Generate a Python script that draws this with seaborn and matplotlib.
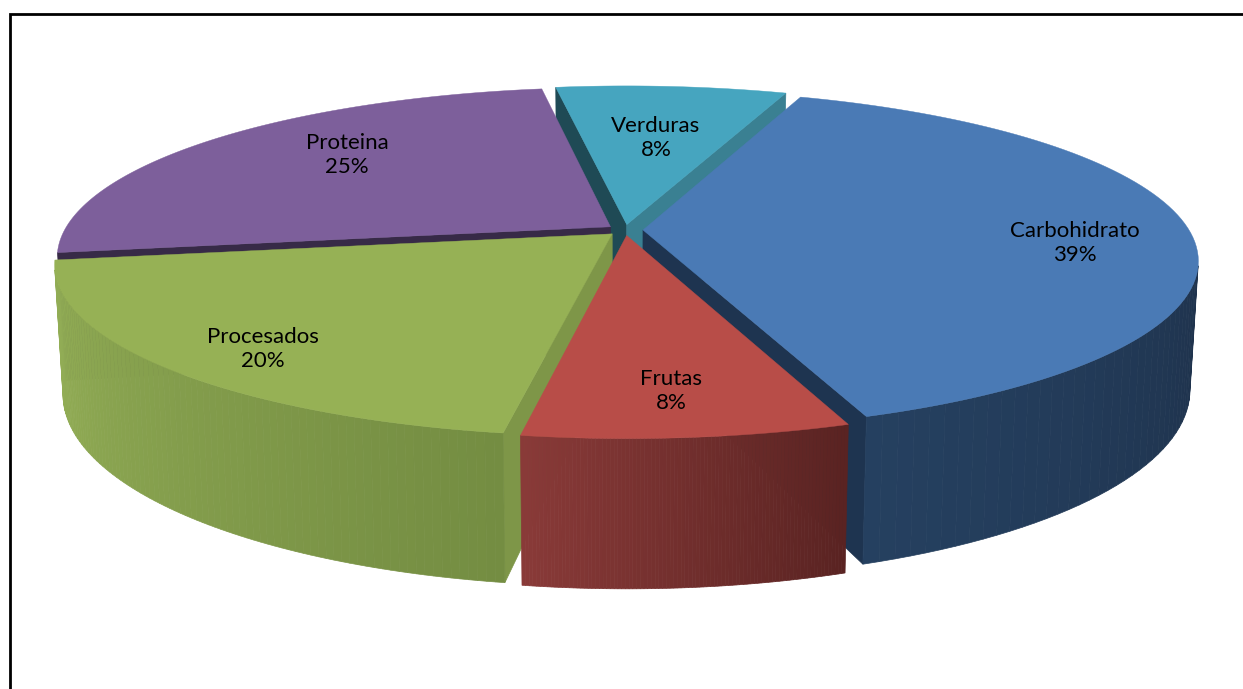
import numpy as np
import seaborn as sns
from matplotlib import pyplot as plt

names = ['Carbohidrato', 'Frutas', 'Procesados', 'Proteina', 'Verduras']
values = [39, 8, 20, 25, 8]

top_colors = ['#4a7ab5', '#b84d48', '#96b155', '#7d5f9b', '#46a5bf']
wall_light = ['#254060', '#893a38', '#93ae56', '#5a4672', '#3a8092']
wall_dark = ['#1f334d', '#5a2322', '#748d42', '#372a47', '#2a6070']
cut_colors = ['#1e3450', '#5a2322', '#7e9648', '#372a47', '#1f4a55']
label_pos = [(1075, 243), (671, 391), (263, 349), (347, 155), (656, 138)]
draw_order = [4, 3, 0, 2, 1]

START = 20
EXPLODE = 0.033
CX, CY = 625, 230
RX, RY = 546, 165
PERSP = 0.177
DROP = 125
RX_LOSS = 8
RY_GAIN = 20


def project(u, v, z):
    s = 1 / (1 - PERSP * v)
    x = CX + (RX - z * RX_LOSS) * u * s
    y = CY + z * DROP + (RY + z * RY_GAIN) * v * s
    return x, y


def area(pts):
    p = np.array(pts)
    return 0.5 * np.sum(p[:, 0] * np.roll(p[:, 1], -1) - np.roll(p[:, 0], -1) * p[:, 1])


def draw_slice(ax, i, a0, a1):
    mid = np.radians((a0 + a1) / 2)
    ou, ov = EXPLODE * np.sin(mid), -EXPLODE * np.cos(mid)
    angles = np.radians(np.linspace(a0, a1, 90))
    us = ou + np.sin(angles)
    vs = ov - np.cos(angles)

    # straight cut faces, only the ones turned to the viewer
    for k, sign in ((0, 1), (-1, -1)):
        quad = [project(ou, ov, 0), project(us[k], vs[k], 0),
                project(us[k], vs[k], 1), project(ou, ov, 1)]
        if area(quad) * sign < 0:
            color = cut_colors[i]
            if i == 4 and k == -1:
                color = wall_light[4]
            ax.fill(*zip(*quad), color=color, lw=0.5)

    # outer wall
    quads = []
    for k in range(len(us) - 1):
        quad = [project(us[k], vs[k], 0), project(us[k + 1], vs[k + 1], 0),
                project(us[k + 1], vs[k + 1], 1), project(us[k], vs[k], 1)]
        if area(quad) < 0:
            quads.append(quad)
    if quads:
        quads.sort(key=lambda q: q[0][0])
        shades = sns.blend_palette([wall_light[i], wall_dark[i]], len(quads))
        for quad, shade in zip(quads, shades):
            ax.fill(*zip(*quad), color=shade, lw=0.5)

    # top
    outline = [project(ou, ov, 0)] + [project(a, b, 0) for a, b in zip(us, vs)]
    ax.fill(*zip(*outline), color=top_colors[i], lw=0.3)


sns.set_theme(style='white')
plt.rcParams['font.family'] = ['Lato', 'DejaVu Sans']

fig = plt.figure(figsize=(12.43, 6.89), dpi=100)
ax = fig.add_axes([0, 0, 1, 1])
ax.set_xlim(0, 1243)
ax.set_ylim(689, 0)
ax.axis('off')

edges = START + np.concatenate([[0], np.cumsum(values)]) * 3.6 / sum(values) * 100
for i in draw_order:
    draw_slice(ax, i, edges[i], edges[i + 1])

for i in range(len(names)):
    ax.text(label_pos[i][0], label_pos[i][1], f'{names[i]}\n{values[i]}%', ha='center', va='center',
            fontsize=16, color='black', linespacing=1.25)

# chart frame
ax.plot([10, 10, 1243], [689, 14, 14], color='black', lw=2, solid_joinstyle='miter')

fig.savefig('out.png', dpi=100)
